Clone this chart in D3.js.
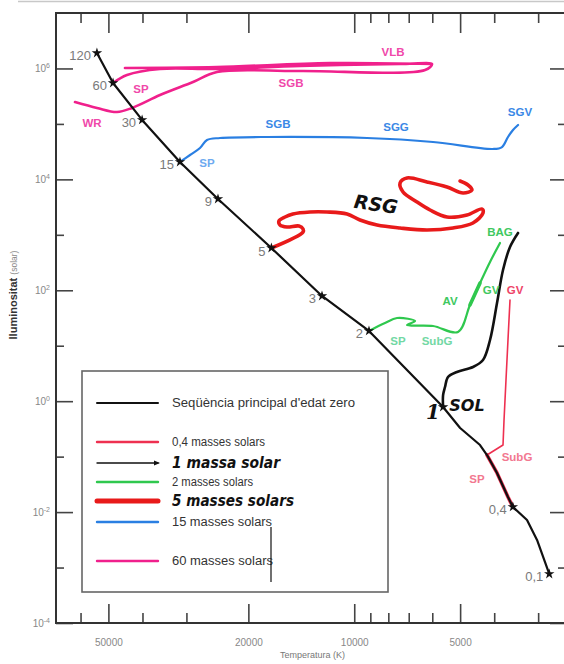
<!DOCTYPE html>
<html>
<head>
<meta charset="utf-8">
<script src="https://cdn.jsdelivr.net/npm/d3@7"></script>
<style>
  body { margin: 0; background: #fff; }
  svg { display: block; font-family: "Liberation Sans", Arial, sans-serif; }
</style>
</head>
<body>
<svg id="chart" width="564" height="664"></svg>
<script>
// ---- Axis ticks ----
const tempMajor = [50000, 20000, 10000, 5000];
const tempMinor = [60000, 40000, 30000, 9000, 8000, 7000, 6000, 4000, 3000];
const lumMajor = [1e-4, 1e-2, 1, 1e2, 1e4, 1e6];
const lumMinor = [1e-3, 1e-1, 10, 1e3, 1e5];

// ---- Zero-age main sequence: stars of given mass (T in K, L in solar units) ----
const zamsMass = ["120", "60", "30", "15", "9", "5", "3", "2", "1", "0,4", "0,1"];
const zamsTemp = [53900, 48500, 40100, 31300, 24400, 17200, 12350, 9080, 5590, 3540, 2790];
const zamsLum  = [1.9e6, 5.47e5, 1.18e5, 2.06e4, 4430, 578, 78.9, 18.5, 0.785, 0.0124, 7.66e-4];
// extra points where the sequence bends at low mass
const zamsBendLow = [[5000, 0.328], [4389, 0.162], [4193, 0.107], [3927, 0.0507], [3655, 0.0187]];
const zamsBendTail = [[3227, 7.2e-3], [3022, 3.14e-3]];

// ---- Evolutionary tracks [T, L]; null breaks a path ----
const track04 = [[3540, 0.0124], [3655, 0.0187], [3927, 0.0507], [4193, 0.107],
  [3776, 0.162], [3751, 0.458], [3703, 2.41], [3655, 12.7], [3607, 66.8]];
const track04SP = track04.slice(0, 4);

const track1 = [[5590, 0.785], [5590, 1.29], [5520, 1.80], [5413, 2.73], [5104, 3.36],
  [4597, 4.13], [4304, 5.53], [4111, 12.7], [3927, 59.0], [3776, 232], [3607, 603], [3422, 1079]];

const track2 = [[9080, 18.5], [8176, 25.7], [7556, 31.6], [6717, 27.9], [7077, 23.6],
  [5970, 22.7], [5070, 17.7], [4688, 54.3], [4389, 135], [4111, 324], [3851, 712]];

const track5 = [[17200, 578], [13980, 1125], [13980, 1274], [14360, 1443], [15530, 1384],
  [16260, 1504], [16370, 1776], [15730, 2097], [14940, 2374], [13360, 2580], [11950, 2580],
  [10480, 2374], [9630, 1851], [8613, 1504], [7408, 1327], [6210, 1222], [5238, 1327],
  [4597, 1634], [4304, 2475], [4332, 2922], [4780, 2278], [5448, 2097], [6088, 2803],
  [6630, 3907], [7265, 5920], [7408, 8600], [7077, 10600], [6210, 8970], [5448, 7285],
  [4905, 5678], [4627, 6430], [4749, 7915], [5002, 9346]];

const track15 = [[31300, 2.06e4], [29300, 2.75e4], [27450, 3.68e4], [26220, 5.13e4],
  [24080, 5.57e4], [17700, 5.81e4], [9199, 5.57e4], [5970, 4.72e4], [4031, 3.53e4],
  [3801, 3.83e4], [3655, 5.81e4], [3537, 7.77e4], [3422, 9.56e4]];

const track60 = [[48500, 5.47e5], [44280, 7.62e5], [35660, 9.78e5], [24560, 9.78e5],
  [14260, 1.11e6], [7408, 1.2e6], [6010, 1.2e6], [6290, 9.38e5], [14260, 9.0e5],
  [24560, 8.64e5], [28730, 5.70e5], [35660, 3.32e5], [42840, 1.94e5], [47270, 1.64e5],
  [53880, 1.94e5], [62220, 2.48e5], null,
  [44860, 1.02e6], [24560, 1.06e6], [11720, 1.25e6], [6010, 1.2e6]];

// ---- Phase labels [text, T, L, group] ----
const phaseLabels = [
  ["SP", 40400, 4.26e5, "m60"], ["WR", 55670, 1.04e5, "m60"],
  ["SGB", 15130, 5.47e5, "m60"], ["VLB", 7760, 1.98e6, "m60"],
  ["SGB", 16470, 9.97e4, "m15"], ["SGG", 7607, 8.80e4, "m15"],
  ["SGV", 3378, 1.64e5, "m15"], ["SP", 26220, 1.97e4, "m15l"],
  ["SP", 7508, 12.2, "m2l"], ["SubG", 5815, 12.2, "m2l"],
  ["AV", 5342, 64.1, "m2"], ["GV", 4084, 101, "m2"], ["BAG", 3851, 1125, "m2"],
  ["GV", 3490, 101, "m04"], ["SubG", 3445, 0.0985, "m04l"], ["SP", 4477, 0.0395, "m04l"]
];
const handLabels = [["RSG", 8671, 3596, 19, 8], ["SOL", 4780, 0.819, 16, 0]];

// ---- Legend ----
const legendText = ["Seqüència principal d'edat zero", "0,4 masses solars", "1 massa solar",
  "2 masses solars", "5 masses solars", "15 masses solars", "60 masses solars"];

const colors = {
  zams: "#111", m04: "#ee3050", m1: "#111", m2: "#2fc84e", m5: "#e81a1a",
  m15: "#2a7fe2", m60: "#f0208c"
};
const labelColors = {
  m60: "#f048aa", m15: "#3a88e6", m15l: "#6eaaf0", m2: "#40c860", m2l: "#72d8a4",
  m04: "#ee4468", m04l: "#f27890"
};

const svg = d3.select("#chart");
const x = d3.scaleLog().domain([70000, 2500]).range([57, 566]);
const y = d3.scaleLog().domain([1e-4, 1e7]).range([623, 13]);

// faint edge line along the top
svg.append("line").attr("x1", 18).attr("x2", 564).attr("y1", 1.5).attr("y2", 1.5)
  .attr("stroke", "#c8c8c8").attr("stroke-width", 1.5);

// ---- Axes ----
function styleAxis(g) {
  g.select(".domain").remove();
  g.selectAll(".tick line").attr("stroke", "#444").attr("stroke-width", 1.6);
  g.selectAll(".tick text").attr("fill", "#888").attr("font-size", 10);
}
const [x0, x1] = x.range();
const [yB, yT] = y.range();

svg.append("g").attr("transform", `translate(0,${yB})`)
  .call(d3.axisBottom(x).tickValues(tempMajor).tickSize(-19).tickPadding(16).tickFormat(d3.format("d")))
  .call(styleAxis);
svg.append("g").attr("transform", `translate(0,${yB})`)
  .call(d3.axisBottom(x).tickValues(tempMinor).tickSize(-10).tickFormat(""))
  .call(styleAxis);
svg.append("g").attr("transform", `translate(0,${yT})`)
  .call(d3.axisTop(x).tickValues(tempMajor).tickSize(-20).tickFormat(""))
  .call(styleAxis);
svg.append("g").attr("transform", `translate(0,${yT})`)
  .call(d3.axisTop(x).tickValues(tempMinor).tickSize(-10).tickFormat(""))
  .call(styleAxis);

const leftMajor = svg.append("g").attr("transform", `translate(${x0 - 1},0)`)
  .call(d3.axisLeft(y).tickValues(lumMajor).tickSize(-17).tickPadding(6).tickFormat(""))
  .call(styleAxis);
leftMajor.selectAll(".tick text").each(function(d) {
  const t = d3.select(this);
  t.append("tspan").text("10");
  t.append("tspan").attr("dy", "-0.55em").attr("font-size", 7).text(Math.round(Math.log10(d)));
});
svg.append("g").attr("transform", `translate(${x0 - 1},0)`)
  .call(d3.axisLeft(y).tickValues(lumMinor).tickSize(-8).tickFormat(""))
  .call(styleAxis);
svg.append("g").attr("transform", `translate(${x1},0)`)
  .call(d3.axisRight(y).tickValues(lumMajor).tickSize(-16).tickFormat(""))
  .call(styleAxis);
svg.append("g").attr("transform", `translate(${x1},0)`)
  .call(d3.axisRight(y).tickValues(lumMinor).tickSize(-8).tickFormat(""))
  .call(styleAxis);

// frame: left, top and bottom sides
svg.append("path")
  .attr("d", `M${x1 + 2},${yT}H${x0 - 1}V${yB}H${x1 + 2}`)
  .attr("fill", "none").attr("stroke", "#333").attr("stroke-width", 2);

// axis titles
svg.append("text").attr("x", (x0 + 564) / 2 + 2).attr("y", 658).attr("text-anchor", "middle")
  .attr("fill", "#777").attr("font-size", 9).text("Temperatura (K)");
const yt = svg.append("text").attr("transform", "translate(17,295) rotate(-90)")
  .attr("text-anchor", "middle");
yt.append("tspan").attr("fill", "#333").attr("font-size", 11).attr("font-weight", "bold").text("lluminositat ");
yt.append("tspan").attr("fill", "#888").attr("font-size", 8.5).text(" (solar)");

// ---- Lines ----
const line = d3.line().defined(d => d).x(d => x(d[0])).y(d => y(d[1])).curve(d3.curveCatmullRom.alpha(0.5));
const lineLin = d3.line().defined(d => d).x(d => x(d[0])).y(d => y(d[1]));

function drawTrack(data, color, width, gen = line) {
  svg.append("path").datum(data).attr("d", gen).attr("fill", "none")
    .attr("stroke", color).attr("stroke-width", width)
    .attr("stroke-linejoin", "round").attr("stroke-linecap", "round");
}

drawTrack(track60, colors.m60, 2.6);
drawTrack(track15, colors.m15, 2.2);
drawTrack(track5, colors.m5, 3.6);
drawTrack(track2, colors.m2, 2.2);
drawTrack(track2.slice(7, 9), colors.m2, 3.6, lineLin);
drawTrack(track04, colors.m04, 1.6, lineLin);
drawTrack(track04SP, colors.m04, 3.6, lineLin);
drawTrack(track1, colors.m1, 2.6);

// main sequence line
const zamsStars = zamsMass.map((m, i) => ({ m, T: zamsTemp[i], L: zamsLum[i] }));
const zamsPath = zamsStars.slice(0, 9).map(d => [d.T, d.L])
  .concat(zamsBendLow, [[zamsTemp[9], zamsLum[9]]], zamsBendTail, [[zamsTemp[10], zamsLum[10]]]);
drawTrack(zamsPath, colors.zams, 2.2, lineLin);

// star markers
svg.append("g").selectAll("path").data(zamsStars).join("path")
  .attr("transform", d => `translate(${x(d.T)},${y(d.L)})`)
  .attr("d", d3.symbol(d3.symbolStar, 34))
  .attr("fill", "#111");

// mass labels on the main sequence
svg.append("g").selectAll("text").data(zamsStars.filter(d => d.m !== "1")).join("text")
  .attr("x", d => x(d.T) - 6).attr("y", d => y(d.L) + 3)
  .attr("text-anchor", "end").attr("dominant-baseline", "central")
  .attr("fill", "#7a7a7a").attr("font-size", 13).text(d => d.m);

// handwritten "1" at the solar-mass star
const sun = zamsStars.find(d => d.m === "1");
svg.append("text").attr("x", x(sun.T) - 10).attr("y", y(sun.L) + 5)
  .attr("text-anchor", "middle").attr("dominant-baseline", "central")
  .attr("font-family", "DejaVu Serif, serif").attr("font-style", "italic").attr("font-weight", "bold")
  .attr("font-size", 20).attr("fill", "#111").text(sun.m);

// phase labels
svg.append("g").selectAll("text").data(phaseLabels).join("text")
  .attr("x", d => x(d[1])).attr("y", d => y(d[2]))
  .attr("text-anchor", "middle").attr("dominant-baseline", "central")
  .attr("font-size", 11.5).attr("font-weight", "bold")
  .attr("fill", d => labelColors[d[3]]).text(d => d[0]);

// handwritten annotations
svg.append("g").selectAll("text").data(handLabels).join("text")
  .attr("transform", d => `translate(${x(d[1])},${y(d[2])}) rotate(${d[4]})`)
  .attr("text-anchor", "middle").attr("dominant-baseline", "central")
  .attr("font-family", "DejaVu Sans, sans-serif").attr("font-style", "italic").attr("font-weight", "bold")
  .attr("font-size", d => d[3]).attr("fill", "#111").text(d => d[0]);

// ---- Legend ----
const lg = svg.append("g");
lg.append("rect").attr("x", 82).attr("y", 371).attr("width", 306).attr("height", 221)
  .attr("fill", "#fff").attr("stroke", "#666").attr("stroke-width", 1.6);
const legendRows = [
  { y: 403, color: colors.zams, w: 2, hand: false, len: 183 },
  { y: 442, color: colors.m04, w: 2.4, hand: false, len: 93 },
  { y: 463, color: colors.m1, w: 1.4, hand: true, arrow: true, len: 108 },
  { y: 482, color: colors.m2, w: 2.4, hand: false, len: 81 },
  { y: 501, color: colors.m5, w: 5, hand: true, len: 122 },
  { y: 522, color: colors.m15, w: 2.4, hand: false, len: 100 },
  { y: 561, color: colors.m60, w: 2.4, hand: false, len: 101 }
];
legendRows.forEach((r, i) => {
  lg.append("line").attr("x1", 97).attr("x2", 158).attr("y1", r.y).attr("y2", r.y)
    .attr("stroke", r.color).attr("stroke-width", r.w).attr("stroke-linecap", "round");
  if (r.arrow) {
    lg.append("path").attr("d", `M160,${r.y}l-6,-2.5v5z`).attr("fill", r.color);
  }
  const t = lg.append("text").attr("x", 172).attr("y", r.y).attr("dominant-baseline", "central")
    .attr("textLength", r.len).attr("lengthAdjust", "spacingAndGlyphs")
    .text(legendText[i]);
  if (r.hand) {
    t.attr("font-family", "DejaVu Sans, sans-serif").attr("font-style", "italic")
      .attr("font-weight", "bold").attr("font-size", 15).attr("fill", "#111");
  } else {
    t.attr("font-size", 12).attr("fill", "#333");
  }
});
lg.append("line").attr("x1", 271).attr("x2", 271).attr("y1", 527).attr("y2", 582)
  .attr("stroke", "#111").attr("stroke-width", 1.2);
</script>
</body>
</html>
